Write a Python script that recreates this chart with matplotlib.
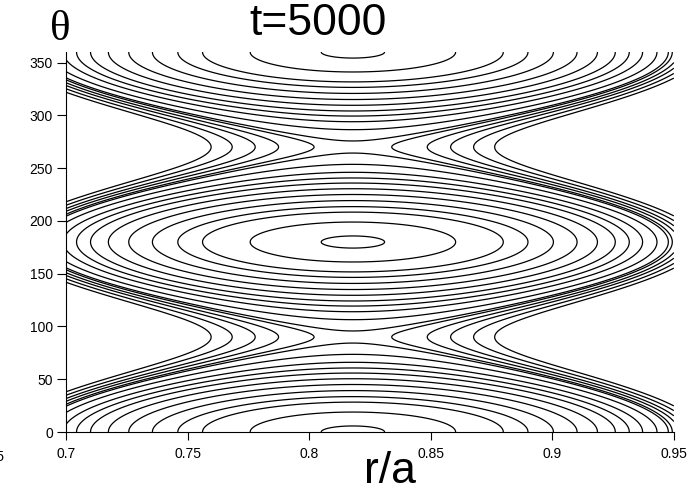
import numpy as np
import matplotlib
matplotlib.use("Agg")
import matplotlib.pyplot as plt

plt.rcParams['font.family'] = ['Liberation Sans', 'DejaVu Sans']

# island model
r_s = 0.818          # O/X point radius
w2 = 0.0085          # radial width^2 of the island
levels = [0.02, 0.21, 0.45, 0.61, 0.80, 1.00, 1.19, 1.37, 1.52, 1.67, 1.84, 1.98,
          2.03, 2.11, 2.19, 2.29, 2.40]

xticks = [0.7, 0.75, 0.8, 0.85, 0.9, 0.95]
xticklabels = ['0.7', '0.75', '0.8', '0.85', '0.9', '0.95']
yticks = [0, 50, 100, 150, 200, 250, 300, 350]

r = np.linspace(0.7, 0.95, 500)
th = np.linspace(0, 360, 720)
R, TH = np.meshgrid(r, th)
psi = (R - r_s)**2 / w2 + 1 - np.cos(np.deg2rad(2 * TH))

fig = plt.figure(figsize=(6.89, 4.93), dpi=100)
ax = fig.add_axes([0.0958, 0.1237, 0.8822, 0.7708])
ax.contour(R, TH, psi, levels=levels, colors='black', linewidths=0.9)

ax.set_xlim(0.7, 0.95)
ax.set_ylim(0, 360)
ax.set_xticks(xticks)
ax.set_xticklabels(xticklabels)
ax.set_yticks(yticks)
ax.tick_params(axis='both', labelsize=10, direction='out', width=0.8)
ax.tick_params(axis='x', length=6, pad=5)
ax.tick_params(axis='y', length=6.5, pad=3)
ax.spines['top'].set_visible(False)
ax.spines['right'].set_visible(False)

fig.text(318 / 689, 1 - 3 / 493, 't=5000', fontsize=32, ha='center', va='top')
fig.text(60 / 689, 1 - 30 / 493, 'θ', fontsize=31, ha='center', va='center',
         family='Liberation Serif')
fig.text(390 / 689, 1 - 483 / 493, 'r/a', fontsize=32, ha='center', va='baseline')
fig.text(5 / 689, 1 - 461 / 493, '0.65', fontsize=10, ha='right', va='baseline')

fig.savefig('out.png', dpi=100)
